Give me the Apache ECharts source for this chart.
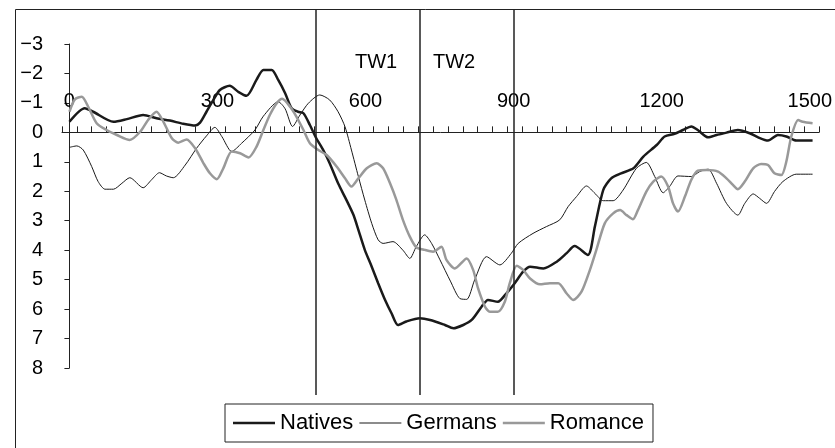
<!DOCTYPE html>
<html>
<head>
<meta charset="utf-8">
<script src="https://cdn.jsdelivr.net/npm/echarts@6.0.0/dist/echarts.min.js"></script>
<style>
  html, body { margin: 0; padding: 0; background: #fff; }
  #chart { width: 835px; height: 448px; }
</style>
</head>
<body>
<div id="chart"></div>
<script>
// time (ms) and amplitude (µV, negative up)
var nativesT = [0, 31, 48, 89, 116, 149, 176, 203, 230, 254, 264, 277, 291, 304, 324, 341, 358, 378, 392, 409, 422, 436, 449, 462, 473, 486, 499, 513, 526, 543, 560, 574, 584, 597, 611, 624, 638, 651, 664, 681, 708, 729, 759, 776, 796, 813, 833, 846, 866, 883, 900, 917, 931, 958, 985, 1005, 1021, 1048, 1062, 1079, 1095, 1115, 1140, 1160, 1187, 1203, 1223, 1240, 1257, 1270, 1291, 1308, 1328, 1351, 1375, 1392, 1412, 1432, 1449, 1469, 1502];
var nativesV = [-0.36, -0.82, -0.70, -0.36, -0.45, -0.59, -0.48, -0.40, -0.29, -0.23, -0.33, -0.70, -1.10, -1.44, -1.58, -1.38, -1.24, -1.78, -2.12, -2.12, -1.78, -1.33, -0.82, -0.70, -0.65, -0.25, 0.20, 0.60, 1.05, 1.73, 2.30, 2.80, 3.31, 3.99, 4.56, 5.12, 5.69, 6.14, 6.54, 6.42, 6.31, 6.37, 6.54, 6.65, 6.54, 6.37, 5.92, 5.69, 5.75, 5.47, 5.12, 4.73, 4.56, 4.62, 4.39, 4.10, 3.86, 4.16, 3.20, 1.95, 1.56, 1.39, 1.22, 0.82, 0.43, 0.14, 0.05, -0.08, -0.20, -0.08, 0.17, 0.09, 0.01, -0.08, 0.03, 0.17, 0.28, 0.09, 0.14, 0.28, 0.28];

var germansT = [0, 15, 28, 45, 58, 72, 89, 106, 122, 149, 166, 182, 196, 210, 234, 257, 277, 294, 308, 328, 348, 375, 392, 422, 436, 451, 466, 483, 506, 526, 543, 557, 570, 584, 597, 611, 624, 634, 654, 674, 688, 701, 718, 732, 749, 770, 789, 803, 819, 843, 870, 893, 907, 937, 964, 991, 1008, 1025, 1045, 1062, 1079, 1099, 1119, 1146, 1166, 1183, 1200, 1213, 1230, 1257, 1274, 1291, 1308, 1328, 1351, 1365, 1382, 1395, 1409, 1425, 1442, 1469, 1502];
var germansV = [0.51, 0.46, 0.60, 1.16, 1.67, 1.93, 1.93, 1.73, 1.54, 1.88, 1.61, 1.37, 1.48, 1.54, 1.11, 0.54, 0.12, -0.17, 0.14, 0.65, 0.37, -0.08, -0.55, -1.04, -0.80, -0.20, -0.59, -0.99, -1.27, -1.10, -0.70, -0.19, 0.60, 1.50, 2.30, 3.09, 3.65, 3.77, 3.71, 4.00, 4.28, 3.88, 3.48, 3.77, 4.33, 5.05, 5.64, 5.67, 5.01, 4.22, 4.50, 4.11, 3.77, 3.43, 3.20, 2.97, 2.52, 2.18, 1.82, 2.07, 2.32, 2.32, 1.96, 1.22, 1.02, 1.50, 2.05, 1.84, 1.48, 1.50, 1.33, 1.25, 1.73, 2.41, 2.81, 2.41, 2.09, 2.24, 2.41, 2.01, 1.67, 1.42, 1.42];

var romanceT = [0, 11, 25, 38, 55, 75, 96, 122, 143, 159, 176, 190, 207, 220, 237, 254, 271, 284, 298, 311, 328, 345, 362, 378, 392, 405, 419, 430, 446, 459, 473, 486, 503, 520, 540, 557, 570, 584, 601, 621, 634, 648, 661, 674, 688, 701, 718, 735, 752, 762, 779, 803, 816, 826, 840, 850, 866, 880, 890, 904, 917, 931, 951, 971, 988, 1005, 1018, 1035, 1052, 1065, 1082, 1099, 1113, 1126, 1139, 1149, 1166, 1180, 1196, 1210, 1220, 1230, 1244, 1257, 1270, 1288, 1311, 1328, 1341, 1351, 1365, 1382, 1398, 1412, 1425, 1439, 1449, 1459, 1473, 1482, 1502];
var romanceV = [-0.70, -1.12, -1.21, -0.87, -0.31, -0.08, 0.09, 0.26, -0.02, -0.42, -0.70, -0.36, 0.20, 0.35, 0.24, 0.54, 1.05, 1.39, 1.59, 1.22, 0.65, 0.71, 0.85, 0.49, -0.08, -0.59, -0.99, -1.14, -0.87, -0.53, -0.08, 0.37, 0.60, 0.77, 1.16, 1.56, 1.84, 1.56, 1.22, 1.05, 1.22, 1.73, 2.30, 2.97, 3.54, 3.90, 3.99, 4.05, 3.88, 4.33, 4.62, 4.28, 4.67, 5.30, 5.92, 6.09, 6.09, 5.75, 5.12, 4.53, 4.67, 4.96, 5.16, 5.12, 5.12, 5.47, 5.69, 5.41, 4.67, 3.99, 3.09, 2.75, 2.64, 2.81, 2.95, 2.64, 2.01, 1.67, 1.50, 1.84, 2.41, 2.69, 2.18, 1.61, 1.30, 1.28, 1.33, 1.56, 1.78, 1.93, 1.67, 1.22, 1.07, 1.11, 1.39, 1.45, 0.99, 0.14, -0.42, -0.36, -0.31];

var seriesNames = ['Natives', 'Germans', 'Romance'];
var windowLines = [497, 709, 899];   // window borders (ms)
var windowNames = ['TW1', 'TW2'];
var xLabelVals = [0, 300, 600, 900, 1200, 1500];
var xTickVals = [];
for (var t = -15; t <= 1515; t += 30) xTickVals.push(t);

function zip(ts, vs) {
    var out = [];
    for (var i = 0; i < ts.length; i++) out.push([ts[i], vs[i]]);
    return out;
}

var font = '"Liberation Sans", Arial, Helvetica, sans-serif';
var thickIcon = 'path://M0,0H42V2.5H0Z';
var thinIcon = 'path://M0,0H42V1H0Z';

var chart = echarts.init(document.getElementById('chart'), null, { renderer: 'canvas' });

var option = {
    animation: false,
    backgroundColor: '#fff',
    textStyle: { fontFamily: font, color: '#000' },
    grid: [
        { left: 62, right: 16, top: 44, bottom: 80 },   // plot
        { left: 62, right: 16, top: 9, bottom: 53 },    // time-window lines
        { left: 62, right: 16, top: 132, bottom: 80 }   // x labels sitting on the zero line
    ],
    legend: {
        data: [
            { name: seriesNames[0], icon: thickIcon },
            { name: seriesNames[1], icon: thinIcon },
            { name: seriesNames[2], icon: thickIcon }
        ],
        left: 225,
        top: 404,
        padding: [8, 9, 8, 8],
        borderColor: '#222',
        borderWidth: 1,
        itemWidth: 42,
        itemHeight: 16,
        itemGap: 6,
        itemStyle: { borderWidth: 0 },
        textStyle: { fontSize: 22, color: '#000', fontFamily: font }
    },
    xAxis: [
        {
            type: 'value',
            gridIndex: 0,
            min: -15,
            max: 1515,
            position: 'top',
            axisLine: { onZero: true, lineStyle: { color: '#222', width: 1 } },
            axisTick: { show: true, customValues: xTickVals, length: 6, lineStyle: { color: '#222' } },
            axisLabel: { show: false },
            splitLine: { show: false }
        },
        { type: 'value', gridIndex: 1, min: -15, max: 1515, show: false },
        {
            type: 'value',
            gridIndex: 2,
            min: -15,
            max: 1515,
            position: 'top',
            axisLine: { show: false },
            axisTick: { show: false },
            axisLabel: {
                customValues: xLabelVals,
                fontSize: 20,
                color: '#000',
                margin: 21,
                formatter: function (v) { return String(v); }
            },
            splitLine: { show: false }
        }
    ],
    yAxis: [
        {
            type: 'value',
            gridIndex: 0,
            inverse: true,
            min: -3,
            max: 8,
            interval: 1,
            axisLine: { show: true, lineStyle: { color: '#222', width: 1 } },
            axisTick: { show: true, length: 5, lineStyle: { color: '#222' } },
            axisLabel: {
                fontSize: 20,
                color: '#000',
                margin: 19,
                formatter: function (v) { return String(v).replace('-', '\u2212'); }
            },
            splitLine: { show: false }
        },
        { type: 'value', gridIndex: 1, min: 0, max: 1, show: false },
        { type: 'value', gridIndex: 2, min: 0, max: 1, show: false }
    ],
    graphic: [
        {
            type: 'rect',
            shape: { x: 15.5, y: 9.5, width: 900, height: 500 },
            style: { fill: 'none', stroke: '#222', lineWidth: 1 },
            silent: true
        },
        { type: 'text', left: 355, top: 52, style: { text: windowNames[0], font: '20px ' + font, fill: '#000' } },
        { type: 'text', left: 433, top: 52, style: { text: windowNames[1], font: '20px ' + font, fill: '#000' } }
    ],
    series: [
        {
            name: 'windows',
            type: 'line',
            xAxisIndex: 1,
            yAxisIndex: 1,
            data: [],
            silent: true,
            markLine: {
                silent: true,
                symbol: 'none',
                label: { show: false },
                lineStyle: { color: '#222', width: 1.5, type: 'solid' },
                data: windowLines.map(function (v) { return { xAxis: v }; })
            }
        },
        {
            name: seriesNames[0],
            type: 'line',
            data: zip(nativesT, nativesV),
            symbol: 'none',
            smooth: 0.25,
            color: '#1a1a1a',
            lineStyle: { color: '#1a1a1a', width: 2.5 }
        },
        {
            name: seriesNames[1],
            type: 'line',
            data: zip(germansT, germansV),
            symbol: 'none',
            smooth: 0.25,
            color: '#1a1a1a',
            lineStyle: { color: '#1a1a1a', width: 1 }
        },
        {
            name: seriesNames[2],
            type: 'line',
            data: zip(romanceT, romanceV),
            symbol: 'none',
            smooth: 0.25,
            color: '#999',
            lineStyle: { color: '#999', width: 2.5 }
        }
    ]
};

chart.setOption(option);
</script>
</body>
</html>
